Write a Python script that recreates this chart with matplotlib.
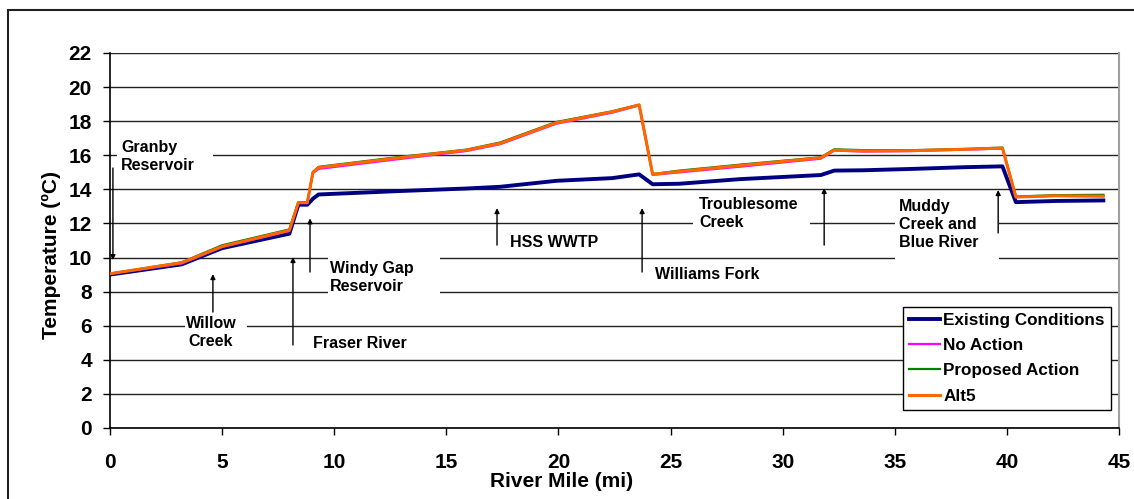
import matplotlib
matplotlib.use('Agg')
import matplotlib.pyplot as plt
from matplotlib.patches import Rectangle

plt.rcParams['font.family'] = ['Liberation Sans', 'DejaVu Sans']
plt.rcParams['font.weight'] = 'bold'

# river mile stations along the reach
miles = [0, 3.2, 5.0, 8.0, 8.4, 8.8, 9.05, 9.3, 12.9, 15.9, 17.4, 19.9, 22.4, 23.6,
         24.2, 25.4, 28.1, 31.7, 32.3, 33.6, 35.8, 38.1, 39.8, 40.4, 42.2, 44.3]

existing = [9.0, 9.6, 10.55, 11.4, 13.1, 13.1, 13.45, 13.7, 13.9, 14.05, 14.15, 14.5, 14.66, 14.88,
            14.3, 14.33, 14.6, 14.84, 15.1, 15.12, 15.2, 15.3, 15.35, 13.25, 13.32, 13.35]
no_action = [9.05, 9.65, 10.62, 11.55, 13.2, 13.2, 14.95, 15.2, 15.78, 16.25, 16.65, 17.85, 18.5, 18.93,
             14.85, 15.0, 15.33, 15.8, 16.28, 16.22, 16.25, 16.33, 16.4, 13.55, 13.62, 13.6]
proposed = [9.05, 9.72, 10.72, 11.65, 13.25, 13.25, 15.02, 15.32, 15.9, 16.33, 16.75, 17.95, 18.58, 18.97,
            14.9, 15.1, 15.45, 15.88, 16.35, 16.3, 16.3, 16.37, 16.45, 13.58, 13.66, 13.68]
alt5 = [9.05, 9.7, 10.65, 11.6, 13.22, 13.22, 15.0, 15.28, 15.85, 16.3, 16.7, 17.9, 18.55, 18.95,
        14.88, 15.05, 15.4, 15.85, 16.3, 16.25, 16.27, 16.35, 16.42, 13.55, 13.62, 13.6]

series = ['Existing Conditions', 'No Action', 'Proposed Action', 'Alt5']
colors = ['#000080', '#ff00ff', '#008000', '#ff6600']

# tributaries / features: label text, label anchor, arrow base, arrow tip
features = [
    ('Granby\nReservoir', (0.49, 15.9), 'left', (0.13, 15.25), (0.13, 9.85)),
    ('Willow\nCreek', (4.5, 5.63), 'center', (4.59, 6.8), (4.59, 9.03)),
    ('Fraser River', (9.05, 4.93), 'left', (8.16, 4.87), (8.16, 10.03)),
    ('Windy Gap\nReservoir', (9.81, 8.85), 'left', (8.92, 9.15), (8.92, 12.3)),
    ('HSS WWTP', (17.84, 10.9), 'left', (17.26, 10.73), (17.26, 12.9)),
    ('Williams Fork', (24.3, 9.03), 'left', (23.73, 9.15), (23.73, 12.9)),
    ('Troublesome\nCreek', (26.27, 12.6), 'left', (31.85, 10.73), (31.85, 14.08)),
    ('Muddy\nCreek and\nBlue River', (35.19, 11.96), 'left', (39.61, 11.44), (39.61, 13.96)),
]
# white text boxes that break the gridlines: x0, x1, y0, y1
label_boxes = [
    (0.31, 4.59, 15.0, 16.8),
    (3.35, 6.11, 4.7, 6.6),
    (9.72, 14.72, 7.6, 10.4),
    (26.0, 31.22, 11.4, 13.5),
    (35.01, 39.65, 9.8, 13.4),
]

fig = plt.figure(figsize=(11.34, 4.99), dpi=100)
ax = fig.add_axes([0.0970, 0.1423, 0.8898, 0.7515])

# outer chart frame
fig.patches.append(Rectangle((8 / 1134, -0.05), 1.2, 1 - 10 / 499 + 0.05, transform=fig.transFigure,
                             fill=False, edgecolor='#202020', linewidth=1.5))

ax.set_xlim(0, 45)
ax.set_ylim(0, 22)
ax.set_xticks(range(0, 46, 5))
ax.set_yticks(range(0, 23, 2))
ax.tick_params(axis='both', labelsize=15, direction='out', length=5, width=1)
ax.tick_params(axis='x', pad=13)
ax.tick_params(axis='y', pad=8)
for lab in ax.get_xticklabels() + ax.get_yticklabels():
    lab.set_fontweight('bold')

ax.set_axisbelow(True)
ax.yaxis.grid(True, color='#222222', linewidth=1.0)
ax.spines['top'].set_visible(False)
ax.spines['right'].set_color('#a0a0a0')
ax.spines['right'].set_linewidth(1.5)
ax.spines['left'].set_linewidth(1.2)
ax.spines['bottom'].set_linewidth(1.2)

for x0, x1, y0, y1 in label_boxes:
    ax.add_patch(Rectangle((x0, y0), x1 - x0, y1 - y0, facecolor='white', edgecolor='none', zorder=1))

widths = [2.8, 1.6, 1.6, 2.2]
for name, vals, c, w in zip(series, [existing, no_action, proposed, alt5], colors, widths):
    ax.plot(miles, vals, color=c, linewidth=w, label=name, zorder=3)

for text, pos, ha, base, tip in features:
    ax.text(pos[0], pos[1], text, ha=ha, va='center', fontsize=11.5, fontweight='bold',
            linespacing=1.25, zorder=4)
    ax.annotate('', xy=tip, xytext=base,
                arrowprops=dict(arrowstyle='-|>', color='black', lw=1.0, mutation_scale=7,
                                shrinkA=0, shrinkB=0), zorder=4)

ax.set_xlabel('River Mile (mi)', fontsize=15, fontweight='bold')
ax.set_ylabel('Temperature (ºC)', fontsize=15, fontweight='bold')
ax.xaxis.set_label_coords(0.448, -0.117)
ax.yaxis.set_label_coords(-0.0486, 0.461)

leg = ax.legend(loc='upper right', bbox_to_anchor=(0.992, 0.323), borderaxespad=0, fancybox=False,
                framealpha=1, edgecolor='black', prop={'size': 12.3, 'weight': 'bold'},
                handlelength=1.8, handletextpad=0.2, labelspacing=0.6, borderpad=0.35)
leg.get_frame().set_linewidth(1.0)

fig.savefig('out.png', dpi=100)
